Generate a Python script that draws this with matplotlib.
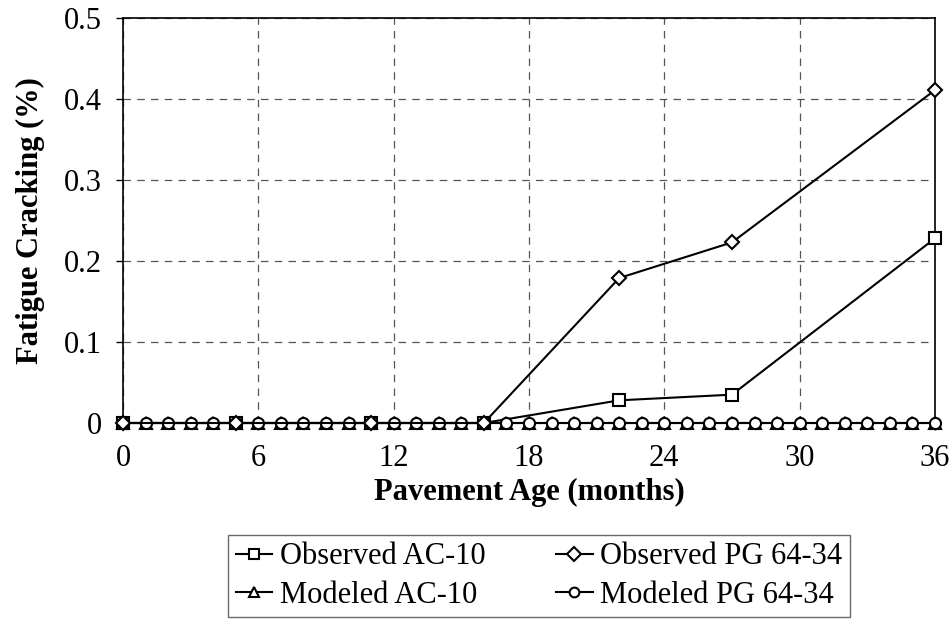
import matplotlib.pyplot as plt
from matplotlib.ticker import FuncFormatter

plt.rcParams['font.family'] = ['Liberation Serif', 'DejaVu Serif']

# observed data (months, %)
obs_months = [0, 5, 11, 16, 22, 27, 36]
obs_ac10 = [0, 0, 0, 0, 0.028, 0.035, 0.228]
obs_pg6434 = [0, 0, 0, 0, 0.179, 0.223, 0.411]

# modeled data, monthly
mod_months = list(range(0, 37))
mod_ac10 = [0.0] * 37
mod_pg6434 = [0.0] * 37

fig = plt.figure(figsize=(9.53, 6.31), dpi=100)
ax = fig.add_axes([123 / 953, 1 - 423 / 631, (935 - 123) / 953, (423 - 18) / 631])

mk = dict(color='black', lw=1.5, markerfacecolor='white', markeredgecolor='black',
          markeredgewidth=1.5, clip_on=False)
ax.plot(obs_months, obs_ac10, marker='s', ms=8, label='Observed AC-10', zorder=4, **mk)
ax.plot(mod_months, mod_ac10, marker='^', ms=9, label='Modeled AC-10', zorder=3, **mk)
ax.plot(obs_months, obs_pg6434, marker='D', ms=7, label='Observed PG 64-34', zorder=5, **mk)
ax.plot(mod_months, mod_pg6434, marker='o', ms=8, label='Modeled PG 64-34', zorder=4, **mk)

ax.set_xlim(0, 36)
ax.set_ylim(0, 0.5)
ax.set_xticks(range(0, 37, 6))
ax.set_yticks([0, 0.1, 0.2, 0.3, 0.4, 0.5])
ax.yaxis.set_major_formatter(FuncFormatter(lambda v, p: '0' if v == 0 else f'{v:g}'))
ax.grid(True, color='#555555', linestyle=(0, (6, 5)), lw=0.9)
ax.set_axisbelow(True)
ax.tick_params(direction='out', length=5, width=1, labelsize=22)
ax.tick_params(axis='x', pad=10)
ax.tick_params(axis='y', pad=10)
for s in ax.spines.values():
    s.set_linewidth(1.2)

ax.set_xlabel('Pavement Age (months)', fontsize=22, fontweight='bold', labelpad=4)
ax.set_ylabel('Fatigue Cracking (%)', fontsize=22, fontweight='bold', labelpad=14)

leg = ax.legend(loc='center', bbox_to_anchor=(539 / 953, 1 - 576 / 631),
                bbox_transform=fig.transFigure, ncol=2, fontsize=22, frameon=True,
                fancybox=False, edgecolor='#444444', handlelength=1.2, columnspacing=2.3,
                handletextpad=0.25, borderpad=0.25, labelspacing=0.3)
leg.get_frame().set_linewidth(1.0)
for h in leg.legend_handles:
    h.set_markersize(7)

fig.savefig('out.png', dpi=100)
